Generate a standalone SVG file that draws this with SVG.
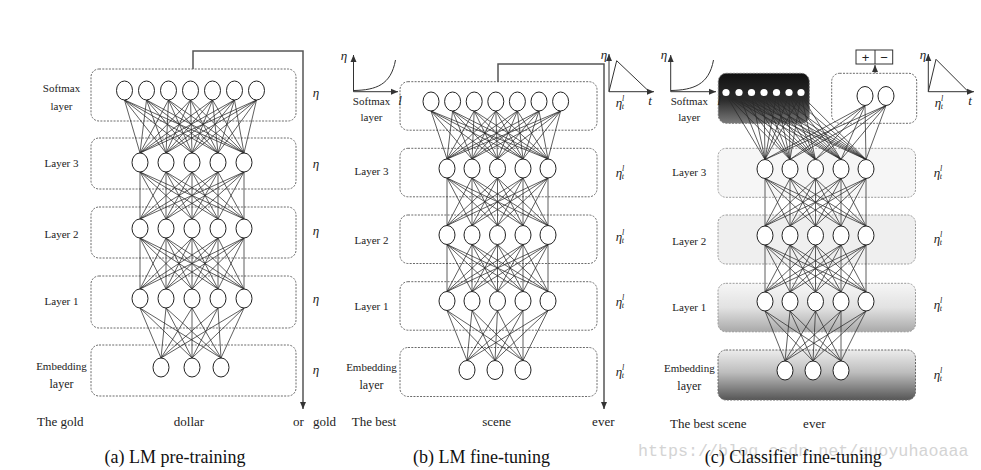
<svg xmlns="http://www.w3.org/2000/svg" xmlns:xlink="http://www.w3.org/1999/xlink" width="981" height="470" viewBox="0 0 981 470">
<defs>
<style>
.box{fill:none;stroke:#6a6a6a;stroke-width:1;stroke-dasharray:2 1.3}
.n{fill:#fff;stroke:#222;stroke-width:1}
.d{fill:#fff;stroke:none}
.c{fill:none;stroke:#2a2a2a;stroke-width:0.75}
text{font-family:'Liberation Serif','Times New Roman',Times,serif}
.lbl{font-size:11px;fill:#222;text-anchor:middle}
.eta{font-style:italic;font-size:13px;fill:#222;text-anchor:middle}
.sup{font-size:8px}
.w{font-size:13px;fill:#222}
.cap{font-size:19px;fill:#111;text-anchor:middle}
.wm{font-family:'Liberation Mono','Courier New',monospace;font-size:16.7px;fill:#d4d4d4}
.ax{fill:none;stroke:#333;stroke-width:1}
.loop{fill:none;stroke:#555;stroke-width:1.5}
</style>
<marker id="ah" markerWidth="8" markerHeight="8" refX="7" refY="4" orient="auto" markerUnits="userSpaceOnUse"><path d="M0 1L7 4L0 7z" fill="#333"/></marker>
<linearGradient id="gSm" x1="0" y1="0" x2="0" y2="1"><stop offset="0" stop-color="#111"/><stop offset="0.55" stop-color="#2e2e2e"/><stop offset="1" stop-color="#7a7a7a"/></linearGradient>
<linearGradient id="gL1" x1="0" y1="0" x2="0" y2="1"><stop offset="0" stop-color="#f6f6f6"/><stop offset="0.5" stop-color="#e2e2e2"/><stop offset="1" stop-color="#a9a9a9"/></linearGradient>
<linearGradient id="gEm" x1="0" y1="0" x2="0" y2="1"><stop offset="0" stop-color="#ececec"/><stop offset="0.45" stop-color="#bdbdbd"/><stop offset="1" stop-color="#565656"/></linearGradient>
</defs>
<rect width="981" height="470" fill="#fff"/>

<!-- ===== Panel (a) ===== -->
<g id="a-boxes">
<rect class="box" x="91" y="69" width="205" height="52" rx="8"/>
<rect class="box" x="91" y="138" width="205" height="51" rx="8"/>
<rect class="box" x="91" y="207" width="205" height="51" rx="8"/>
<rect class="box" x="91" y="276" width="205" height="52" rx="8"/>
<rect class="box" x="91" y="345" width="205" height="51" rx="8"/>
</g>
<g id="a-connectors">
<path class="c" d="M124.5 100L140 153M124.5 100L166 153M124.5 100L192 153M124.5 100L218 153M124.5 100L244 153M146.5 100L140 153M146.5 100L166 153M146.5 100L192 153M146.5 100L218 153M146.5 100L244 153M168.5 100L140 153M168.5 100L166 153M168.5 100L192 153M168.5 100L218 153M168.5 100L244 153M190.5 100L140 153M190.5 100L166 153M190.5 100L192 153M190.5 100L218 153M190.5 100L244 153M212.5 100L140 153M212.5 100L166 153M212.5 100L192 153M212.5 100L218 153M212.5 100L244 153M234.5 100L140 153M234.5 100L166 153M234.5 100L192 153M234.5 100L218 153M234.5 100L244 153M256.5 100L140 153M256.5 100L166 153M256.5 100L192 153M256.5 100L218 153M256.5 100L244 153"/>
<path class="c" d="M140 172L140 219M140 172L166 219M140 172L192 219M140 172L218 219M140 172L244 219M166 172L140 219M166 172L166 219M166 172L192 219M166 172L218 219M166 172L244 219M192 172L140 219M192 172L166 219M192 172L192 219M192 172L218 219M192 172L244 219M218 172L140 219M218 172L166 219M218 172L192 219M218 172L218 219M218 172L244 219M244 172L140 219M244 172L166 219M244 172L192 219M244 172L218 219M244 172L244 219"/>
<path class="c" d="M140 238L140 289M140 238L166 289M140 238L192 289M140 238L218 289M140 238L244 289M166 238L140 289M166 238L166 289M166 238L192 289M166 238L218 289M166 238L244 289M192 238L140 289M192 238L166 289M192 238L192 289M192 238L218 289M192 238L244 289M218 238L140 289M218 238L166 289M218 238L192 289M218 238L218 289M218 238L244 289M244 238L140 289M244 238L166 289M244 238L192 289M244 238L218 289M244 238L244 289"/>
<path class="c" d="M140 308L161 358M140 308L192 358M140 308L221 358M166 308L161 358M166 308L192 358M166 308L221 358M192 308L161 358M192 308L192 358M192 308L221 358M218 308L161 358M218 308L192 358M218 308L221 358M244 308L161 358M244 308L192 358M244 308L221 358"/>
<path class="loop" d="M193 69V51H303V409" marker-end="url(#ah)"/>
</g>
<g id="a-softmax">
<ellipse id="a-s1" class="n" cx="124.5" cy="90.5" rx="8" ry="9.5"/>
<ellipse id="a-s2" class="n" cx="146.5" cy="90.5" rx="8" ry="9.5"/>
<ellipse id="a-s3" class="n" cx="168.5" cy="90.5" rx="8" ry="9.5"/>
<ellipse id="a-s4" class="n" cx="190.5" cy="90.5" rx="8" ry="9.5"/>
<ellipse id="a-s5" class="n" cx="212.5" cy="90.5" rx="8" ry="9.5"/>
<ellipse id="a-s6" class="n" cx="234.5" cy="90.5" rx="8" ry="9.5"/>
<ellipse id="a-s7" class="n" cx="256.5" cy="90.5" rx="8" ry="9.5"/>
</g>
<g id="a-layer3">
<ellipse id="a-31" class="n" cx="140" cy="162.5" rx="8" ry="9.5"/>
<ellipse id="a-32" class="n" cx="166" cy="162.5" rx="8" ry="9.5"/>
<ellipse id="a-33" class="n" cx="192" cy="162.5" rx="8" ry="9.5"/>
<ellipse id="a-34" class="n" cx="218" cy="162.5" rx="8" ry="9.5"/>
<ellipse id="a-35" class="n" cx="244" cy="162.5" rx="8" ry="9.5"/>
</g>
<g id="a-layer2">
<ellipse id="a-21" class="n" cx="140" cy="228.5" rx="8" ry="9.5"/>
<ellipse id="a-22" class="n" cx="166" cy="228.5" rx="8" ry="9.5"/>
<ellipse id="a-23" class="n" cx="192" cy="228.5" rx="8" ry="9.5"/>
<ellipse id="a-24" class="n" cx="218" cy="228.5" rx="8" ry="9.5"/>
<ellipse id="a-25" class="n" cx="244" cy="228.5" rx="8" ry="9.5"/>
</g>
<g id="a-layer1">
<ellipse id="a-11" class="n" cx="140" cy="298.5" rx="8" ry="9.5"/>
<ellipse id="a-12" class="n" cx="166" cy="298.5" rx="8" ry="9.5"/>
<ellipse id="a-13" class="n" cx="192" cy="298.5" rx="8" ry="9.5"/>
<ellipse id="a-14" class="n" cx="218" cy="298.5" rx="8" ry="9.5"/>
<ellipse id="a-15" class="n" cx="244" cy="298.5" rx="8" ry="9.5"/>
</g>
<g id="a-embedding">
<ellipse id="a-e1" class="n" cx="161" cy="367.5" rx="8" ry="9.5"/>
<ellipse id="a-e2" class="n" cx="192" cy="367.5" rx="8" ry="9.5"/>
<ellipse id="a-e3" class="n" cx="221" cy="367.5" rx="8" ry="9.5"/>
</g>
<g id="a-labels">
<text class="lbl" x="61.5" y="92">Softmax</text>
<text class="lbl" x="61.5" y="110">layer</text>
<text class="lbl" x="61.5" y="167">Layer 3</text>
<text class="lbl" x="61.5" y="238">Layer 2</text>
<text class="lbl" x="61.5" y="305">Layer 1</text>
<text class="lbl" x="61.5" y="370">Embedding</text>
<text class="lbl" x="61.5" y="388" style="font-size:12px">layer</text>
<text class="eta" x="316" y="97">η</text>
<text class="eta" x="316" y="168">η</text>
<text class="eta" x="316" y="235">η</text>
<text class="eta" x="316" y="303">η</text>
<text class="eta" x="316" y="374">η</text>
<text class="w" x="37" y="426">The gold</text>
<text class="w" x="189" y="426" text-anchor="middle">dollar</text>
<text class="w" x="293" y="426">or<tspan x="313">gold</tspan></text>
</g>

<!-- ===== Panel (b) ===== -->
<g id="b-boxes">
<rect class="box" x="400" y="81.7" width="197" height="48.5" rx="8"/>
<rect class="box" x="400" y="148.3" width="197" height="48.5" rx="8"/>
<rect class="box" x="400" y="215" width="197" height="48.5" rx="8"/>
<rect class="box" x="400" y="281.7" width="197" height="48.5" rx="8"/>
<rect class="box" x="400" y="347.5" width="197" height="49" rx="8"/>
</g>
<g id="b-connectors">
<path class="c" d="M431 111L447 159M431 111L472 159M431 111L497.5 159M431 111L523 159M431 111L548 159M452.6 111L447 159M452.6 111L472 159M452.6 111L497.5 159M452.6 111L523 159M452.6 111L548 159M474.2 111L447 159M474.2 111L472 159M474.2 111L497.5 159M474.2 111L523 159M474.2 111L548 159M495.8 111L447 159M495.8 111L472 159M495.8 111L497.5 159M495.8 111L523 159M495.8 111L548 159M517.4 111L447 159M517.4 111L472 159M517.4 111L497.5 159M517.4 111L523 159M517.4 111L548 159M539 111L447 159M539 111L472 159M539 111L497.5 159M539 111L523 159M539 111L548 159M560.6 111L447 159M560.6 111L472 159M560.6 111L497.5 159M560.6 111L523 159M560.6 111L548 159"/>
<path id="b-body" class="c" d="M447 178L447 225.5M447 178L472 225.5M447 178L497.5 225.5M447 178L523 225.5M447 178L548 225.5M472 178L447 225.5M472 178L472 225.5M472 178L497.5 225.5M472 178L523 225.5M472 178L548 225.5M497.5 178L447 225.5M497.5 178L472 225.5M497.5 178L497.5 225.5M497.5 178L523 225.5M497.5 178L548 225.5M523 178L447 225.5M523 178L472 225.5M523 178L497.5 225.5M523 178L523 225.5M523 178L548 225.5M548 178L447 225.5M548 178L472 225.5M548 178L497.5 225.5M548 178L523 225.5M548 178L548 225.5M447 244.5L447 291.5M447 244.5L472 291.5M447 244.5L497.5 291.5M447 244.5L523 291.5M447 244.5L548 291.5M472 244.5L447 291.5M472 244.5L472 291.5M472 244.5L497.5 291.5M472 244.5L523 291.5M472 244.5L548 291.5M497.5 244.5L447 291.5M497.5 244.5L472 291.5M497.5 244.5L497.5 291.5M497.5 244.5L523 291.5M497.5 244.5L548 291.5M523 244.5L447 291.5M523 244.5L472 291.5M523 244.5L497.5 291.5M523 244.5L523 291.5M523 244.5L548 291.5M548 244.5L447 291.5M548 244.5L472 291.5M548 244.5L497.5 291.5M548 244.5L523 291.5M548 244.5L548 291.5M447 310.5L467 360.5M447 310.5L495 360.5M447 310.5L523 360.5M472 310.5L467 360.5M472 310.5L495 360.5M472 310.5L523 360.5M497.5 310.5L467 360.5M497.5 310.5L495 360.5M497.5 310.5L523 360.5M523 310.5L467 360.5M523 310.5L495 360.5M523 310.5L523 360.5M548 310.5L467 360.5M548 310.5L495 360.5M548 310.5L523 360.5"/>
<path class="loop" d="M498 81.7V64H604V409" marker-end="url(#ah)"/>
</g>
<g id="b-softmax">
<ellipse id="b-s1" class="n" cx="431" cy="101.5" rx="8" ry="9.5"/>
<ellipse id="b-s2" class="n" cx="452.6" cy="101.5" rx="8" ry="9.5"/>
<ellipse id="b-s3" class="n" cx="474.2" cy="101.5" rx="8" ry="9.5"/>
<ellipse id="b-s4" class="n" cx="495.8" cy="101.5" rx="8" ry="9.5"/>
<ellipse id="b-s5" class="n" cx="517.4" cy="101.5" rx="8" ry="9.5"/>
<ellipse id="b-s6" class="n" cx="539" cy="101.5" rx="8" ry="9.5"/>
<ellipse id="b-s7" class="n" cx="560.6" cy="101.5" rx="8" ry="9.5"/>
</g>
<g id="b-layer3">
<ellipse id="b-31" class="n" cx="447" cy="168.5" rx="8" ry="9.5"/>
<ellipse id="b-32" class="n" cx="472" cy="168.5" rx="8" ry="9.5"/>
<ellipse id="b-33" class="n" cx="497.5" cy="168.5" rx="8" ry="9.5"/>
<ellipse id="b-34" class="n" cx="523" cy="168.5" rx="8" ry="9.5"/>
<ellipse id="b-35" class="n" cx="548" cy="168.5" rx="8" ry="9.5"/>
</g>
<g id="b-layer2">
<ellipse id="b-21" class="n" cx="447" cy="235" rx="8" ry="9.5"/>
<ellipse id="b-22" class="n" cx="472" cy="235" rx="8" ry="9.5"/>
<ellipse id="b-23" class="n" cx="497.5" cy="235" rx="8" ry="9.5"/>
<ellipse id="b-24" class="n" cx="523" cy="235" rx="8" ry="9.5"/>
<ellipse id="b-25" class="n" cx="548" cy="235" rx="8" ry="9.5"/>
</g>
<g id="b-layer1">
<ellipse id="b-11" class="n" cx="447" cy="301" rx="8" ry="9.5"/>
<ellipse id="b-12" class="n" cx="472" cy="301" rx="8" ry="9.5"/>
<ellipse id="b-13" class="n" cx="497.5" cy="301" rx="8" ry="9.5"/>
<ellipse id="b-14" class="n" cx="523" cy="301" rx="8" ry="9.5"/>
<ellipse id="b-15" class="n" cx="548" cy="301" rx="8" ry="9.5"/>
</g>
<g id="b-embedding">
<ellipse id="b-e1" class="n" cx="467" cy="370" rx="8" ry="9.5"/>
<ellipse id="b-e2" class="n" cx="495" cy="370" rx="8" ry="9.5"/>
<ellipse id="b-e3" class="n" cx="523" cy="370" rx="8" ry="9.5"/>
</g>
<g id="b-graphs">
<path class="ax" d="M353.5 91.7V55" marker-end="url(#ah)"/>
<path class="ax" d="M353.5 91.7H398" marker-end="url(#ah)"/>
<path class="ax" d="M354 90.5C376 90 391 85 395.5 60"/>
<text class="eta" x="344" y="60">η</text>
<text class="eta" x="400" y="105">l</text>
<path class="ax" d="M609 91.7V54" marker-end="url(#ah)"/>
<path class="ax" d="M609 91.7H654" marker-end="url(#ah)"/>
<path class="ax" d="M609 91.7L616.7 60.7L649.3 91.7"/>
<text class="eta" x="604" y="59">η</text>
<text class="eta" x="650" y="105">t</text>
<text class="eta" x="620" y="107">η<tspan class="sup" dy="-6">l</tspan><tspan class="sup" dx="-2.5" dy="8">t</tspan></text>
</g>
<g id="b-labels">
<text class="lbl" x="371.5" y="105">Softmax</text>
<text class="lbl" x="371.5" y="121">layer</text>
<text class="lbl" x="371.5" y="175">Layer 3</text>
<text class="lbl" x="371.5" y="244">Layer 2</text>
<text class="lbl" x="371.5" y="310">Layer 1</text>
<text class="lbl" x="371.5" y="371">Embedding</text>
<text class="lbl" x="371.5" y="389" style="font-size:12px">layer</text>
<text class="eta" x="620" y="177">η<tspan class="sup" dy="-6">l</tspan><tspan class="sup" dx="-2.5" dy="8">t</tspan></text>
<text class="eta" x="620" y="241">η<tspan class="sup" dy="-6">l</tspan><tspan class="sup" dx="-2.5" dy="8">t</tspan></text>
<text class="eta" x="620" y="306">η<tspan class="sup" dy="-6">l</tspan><tspan class="sup" dx="-2.5" dy="8">t</tspan></text>
<text class="eta" x="620" y="376">η<tspan class="sup" dy="-6">l</tspan><tspan class="sup" dx="-2.5" dy="8">t</tspan></text>
<text class="w" x="351.7" y="426">The best</text>
<text class="w" x="496.7" y="426" text-anchor="middle">scene</text>
<text class="w" x="603.3" y="426" text-anchor="middle">ever</text>
</g>

<!-- ===== Panel (c) ===== -->
<g id="c-boxes">
<rect x="718.3" y="73.3" width="91" height="50" rx="8" fill="url(#gSm)" stroke="#777" stroke-width="1" stroke-dasharray="2 1.3"/>
<rect class="box" x="831.7" y="73.3" width="85" height="50" rx="8"/>
<rect x="718" y="148.3" width="197.5" height="49" rx="8" fill="#f6f6f6" stroke="#999" stroke-width="1" stroke-dasharray="2 1.3"/>
<rect x="718" y="215" width="197.5" height="49" rx="8" fill="#efefef" stroke="#999" stroke-width="1" stroke-dasharray="2 1.3"/>
<rect x="718" y="283.3" width="197.5" height="48.5" rx="8" fill="url(#gL1)" stroke="#999" stroke-width="1" stroke-dasharray="2 1.3"/>
<rect x="718" y="350" width="197.5" height="50" rx="8" fill="url(#gEm)" stroke="#666" stroke-width="1" stroke-dasharray="2 1.3"/>
</g>
<g id="c-connectors">
<path class="c" d="M726 95L765 159.5M726 95L790 159.5M726 95L815.5 159.5M726 95L841 159.5M726 95L866 159.5M739 95L765 159.5M739 95L790 159.5M739 95L815.5 159.5M739 95L841 159.5M739 95L866 159.5M751.5 95L765 159.5M751.5 95L790 159.5M751.5 95L815.5 159.5M751.5 95L841 159.5M751.5 95L866 159.5M764 95L765 159.5M764 95L790 159.5M764 95L815.5 159.5M764 95L841 159.5M764 95L866 159.5M776.5 95L765 159.5M776.5 95L790 159.5M776.5 95L815.5 159.5M776.5 95L841 159.5M776.5 95L866 159.5M789 95L765 159.5M789 95L790 159.5M789 95L815.5 159.5M789 95L841 159.5M789 95L866 159.5M801 95L765 159.5M801 95L790 159.5M801 95L815.5 159.5M801 95L841 159.5M801 95L866 159.5"/>
<path class="c" d="M865 105.5L765 159.5M865 105.5L790 159.5M865 105.5L815.5 159.5M865 105.5L841 159.5M865 105.5L866 159.5M886 105.5L765 159.5M886 105.5L790 159.5M886 105.5L815.5 159.5M886 105.5L841 159.5M886 105.5L866 159.5"/>
<use xlink:href="#b-body" href="#b-body" transform="translate(318 0.5)"/>
<path class="ax" d="M875 73.3V65" marker-end="url(#ah)"/>
</g>
<g id="c-softmax">
<circle id="c-s1" class="d" cx="726" cy="92.5" r="3.6"/>
<circle id="c-s2" class="d" cx="739" cy="92.5" r="3.6"/>
<circle id="c-s3" class="d" cx="751.5" cy="92.5" r="3.6"/>
<circle id="c-s4" class="d" cx="764" cy="92.5" r="3.6"/>
<circle id="c-s5" class="d" cx="776.5" cy="92.5" r="3.6"/>
<circle id="c-s6" class="d" cx="789" cy="92.5" r="3.6"/>
<circle id="c-s7" class="d" cx="801" cy="92.5" r="3.6"/>
</g>
<g id="c-classifier">
<ellipse id="c-k1" class="n" cx="865" cy="96" rx="8" ry="9.5"/>
<ellipse id="c-k2" class="n" cx="886" cy="96" rx="8" ry="9.5"/>
</g>
<g id="c-output">
<rect x="856" y="50" width="36.7" height="14" fill="#fff" stroke="#333" stroke-width="1"/>
<line x1="875" y1="50" x2="875" y2="64" stroke="#333" stroke-width="1"/>
<text x="865.5" y="61.5" text-anchor="middle" style="font-family:'Liberation Sans',Arial,sans-serif;font-size:13px;fill:#222">+</text>
<text x="884" y="61.5" text-anchor="middle" style="font-family:'Liberation Sans',Arial,sans-serif;font-size:13px;fill:#222">−</text>
</g>
<g id="c-layer3">
<ellipse id="c-31" class="n" cx="765" cy="169" rx="8" ry="9.5"/>
<ellipse id="c-32" class="n" cx="790" cy="169" rx="8" ry="9.5"/>
<ellipse id="c-33" class="n" cx="815.5" cy="169" rx="8" ry="9.5"/>
<ellipse id="c-34" class="n" cx="841" cy="169" rx="8" ry="9.5"/>
<ellipse id="c-35" class="n" cx="866" cy="169" rx="8" ry="9.5"/>
</g>
<g id="c-layer2">
<ellipse id="c-21" class="n" cx="765" cy="235.5" rx="8" ry="9.5"/>
<ellipse id="c-22" class="n" cx="790" cy="235.5" rx="8" ry="9.5"/>
<ellipse id="c-23" class="n" cx="815.5" cy="235.5" rx="8" ry="9.5"/>
<ellipse id="c-24" class="n" cx="841" cy="235.5" rx="8" ry="9.5"/>
<ellipse id="c-25" class="n" cx="866" cy="235.5" rx="8" ry="9.5"/>
</g>
<g id="c-layer1">
<ellipse id="c-11" class="n" cx="765" cy="301.5" rx="8" ry="9.5"/>
<ellipse id="c-12" class="n" cx="790" cy="301.5" rx="8" ry="9.5"/>
<ellipse id="c-13" class="n" cx="815.5" cy="301.5" rx="8" ry="9.5"/>
<ellipse id="c-14" class="n" cx="841" cy="301.5" rx="8" ry="9.5"/>
<ellipse id="c-15" class="n" cx="866" cy="301.5" rx="8" ry="9.5"/>
</g>
<g id="c-embedding">
<ellipse id="c-e1" class="n" cx="785" cy="370.5" rx="8" ry="9.5"/>
<ellipse id="c-e2" class="n" cx="813" cy="370.5" rx="8" ry="9.5"/>
<ellipse id="c-e3" class="n" cx="841" cy="370.5" rx="8" ry="9.5"/>
</g>
<g id="c-graphs">
<path class="ax" d="M670.7 91.7V55" marker-end="url(#ah)"/>
<path class="ax" d="M670.7 91.7H716" marker-end="url(#ah)"/>
<path class="ax" d="M671 90.5C693 90 709 85 713.5 60"/>
<text class="eta" x="664" y="59">η</text>
<text class="eta" x="719" y="105">l</text>
<path class="ax" d="M928.3 91.7V54" marker-end="url(#ah)"/>
<path class="ax" d="M928.3 91.7H974" marker-end="url(#ah)"/>
<path class="ax" d="M928.3 91.7L936 59.3L968.3 91.7"/>
<text class="eta" x="923" y="59">η</text>
<text class="eta" x="970" y="105">t</text>
<text class="eta" x="939" y="107">η<tspan class="sup" dy="-6">l</tspan><tspan class="sup" dx="-2.5" dy="8">t</tspan></text>
</g>
<g id="c-labels">
<text class="lbl" x="689.3" y="105">Softmax</text>
<text class="lbl" x="689.3" y="121">layer</text>
<text class="lbl" x="689.3" y="175.5">Layer 3</text>
<text class="lbl" x="689.3" y="245">Layer 2</text>
<text class="lbl" x="689.3" y="311">Layer 1</text>
<text class="lbl" x="689.3" y="372">Embedding</text>
<text class="lbl" x="689.3" y="390" style="font-size:12px">layer</text>
<text class="eta" x="938" y="177">η<tspan class="sup" dy="-6">l</tspan><tspan class="sup" dx="-2.5" dy="8">t</tspan></text>
<text class="eta" x="938" y="243">η<tspan class="sup" dy="-6">l</tspan><tspan class="sup" dx="-2.5" dy="8">t</tspan></text>
<text class="eta" x="938" y="309">η<tspan class="sup" dy="-6">l</tspan><tspan class="sup" dx="-2.5" dy="8">t</tspan></text>
<text class="eta" x="938" y="379">η<tspan class="sup" dy="-6">l</tspan><tspan class="sup" dx="-2.5" dy="8">t</tspan></text>
<text class="w" x="670" y="427.5">The best scene</text>
<text class="w" x="814.3" y="427.5" text-anchor="middle">ever</text>
</g>

<!-- ===== Captions ===== -->
<g id="captions">
<text class="wm" x="638" y="456">https://blog.csdn.net/guoyuhaoaaa</text>
<text class="cap" x="175" y="463" textLength="141" lengthAdjust="spacingAndGlyphs">(a) LM pre-training</text>
<text class="cap" x="481.5" y="463" textLength="137" lengthAdjust="spacingAndGlyphs">(b) LM fine-tuning</text>
<text class="cap" x="793.3" y="463" textLength="177" lengthAdjust="spacingAndGlyphs">(c) Classifier fine-tuning</text>
</g>
</svg>
